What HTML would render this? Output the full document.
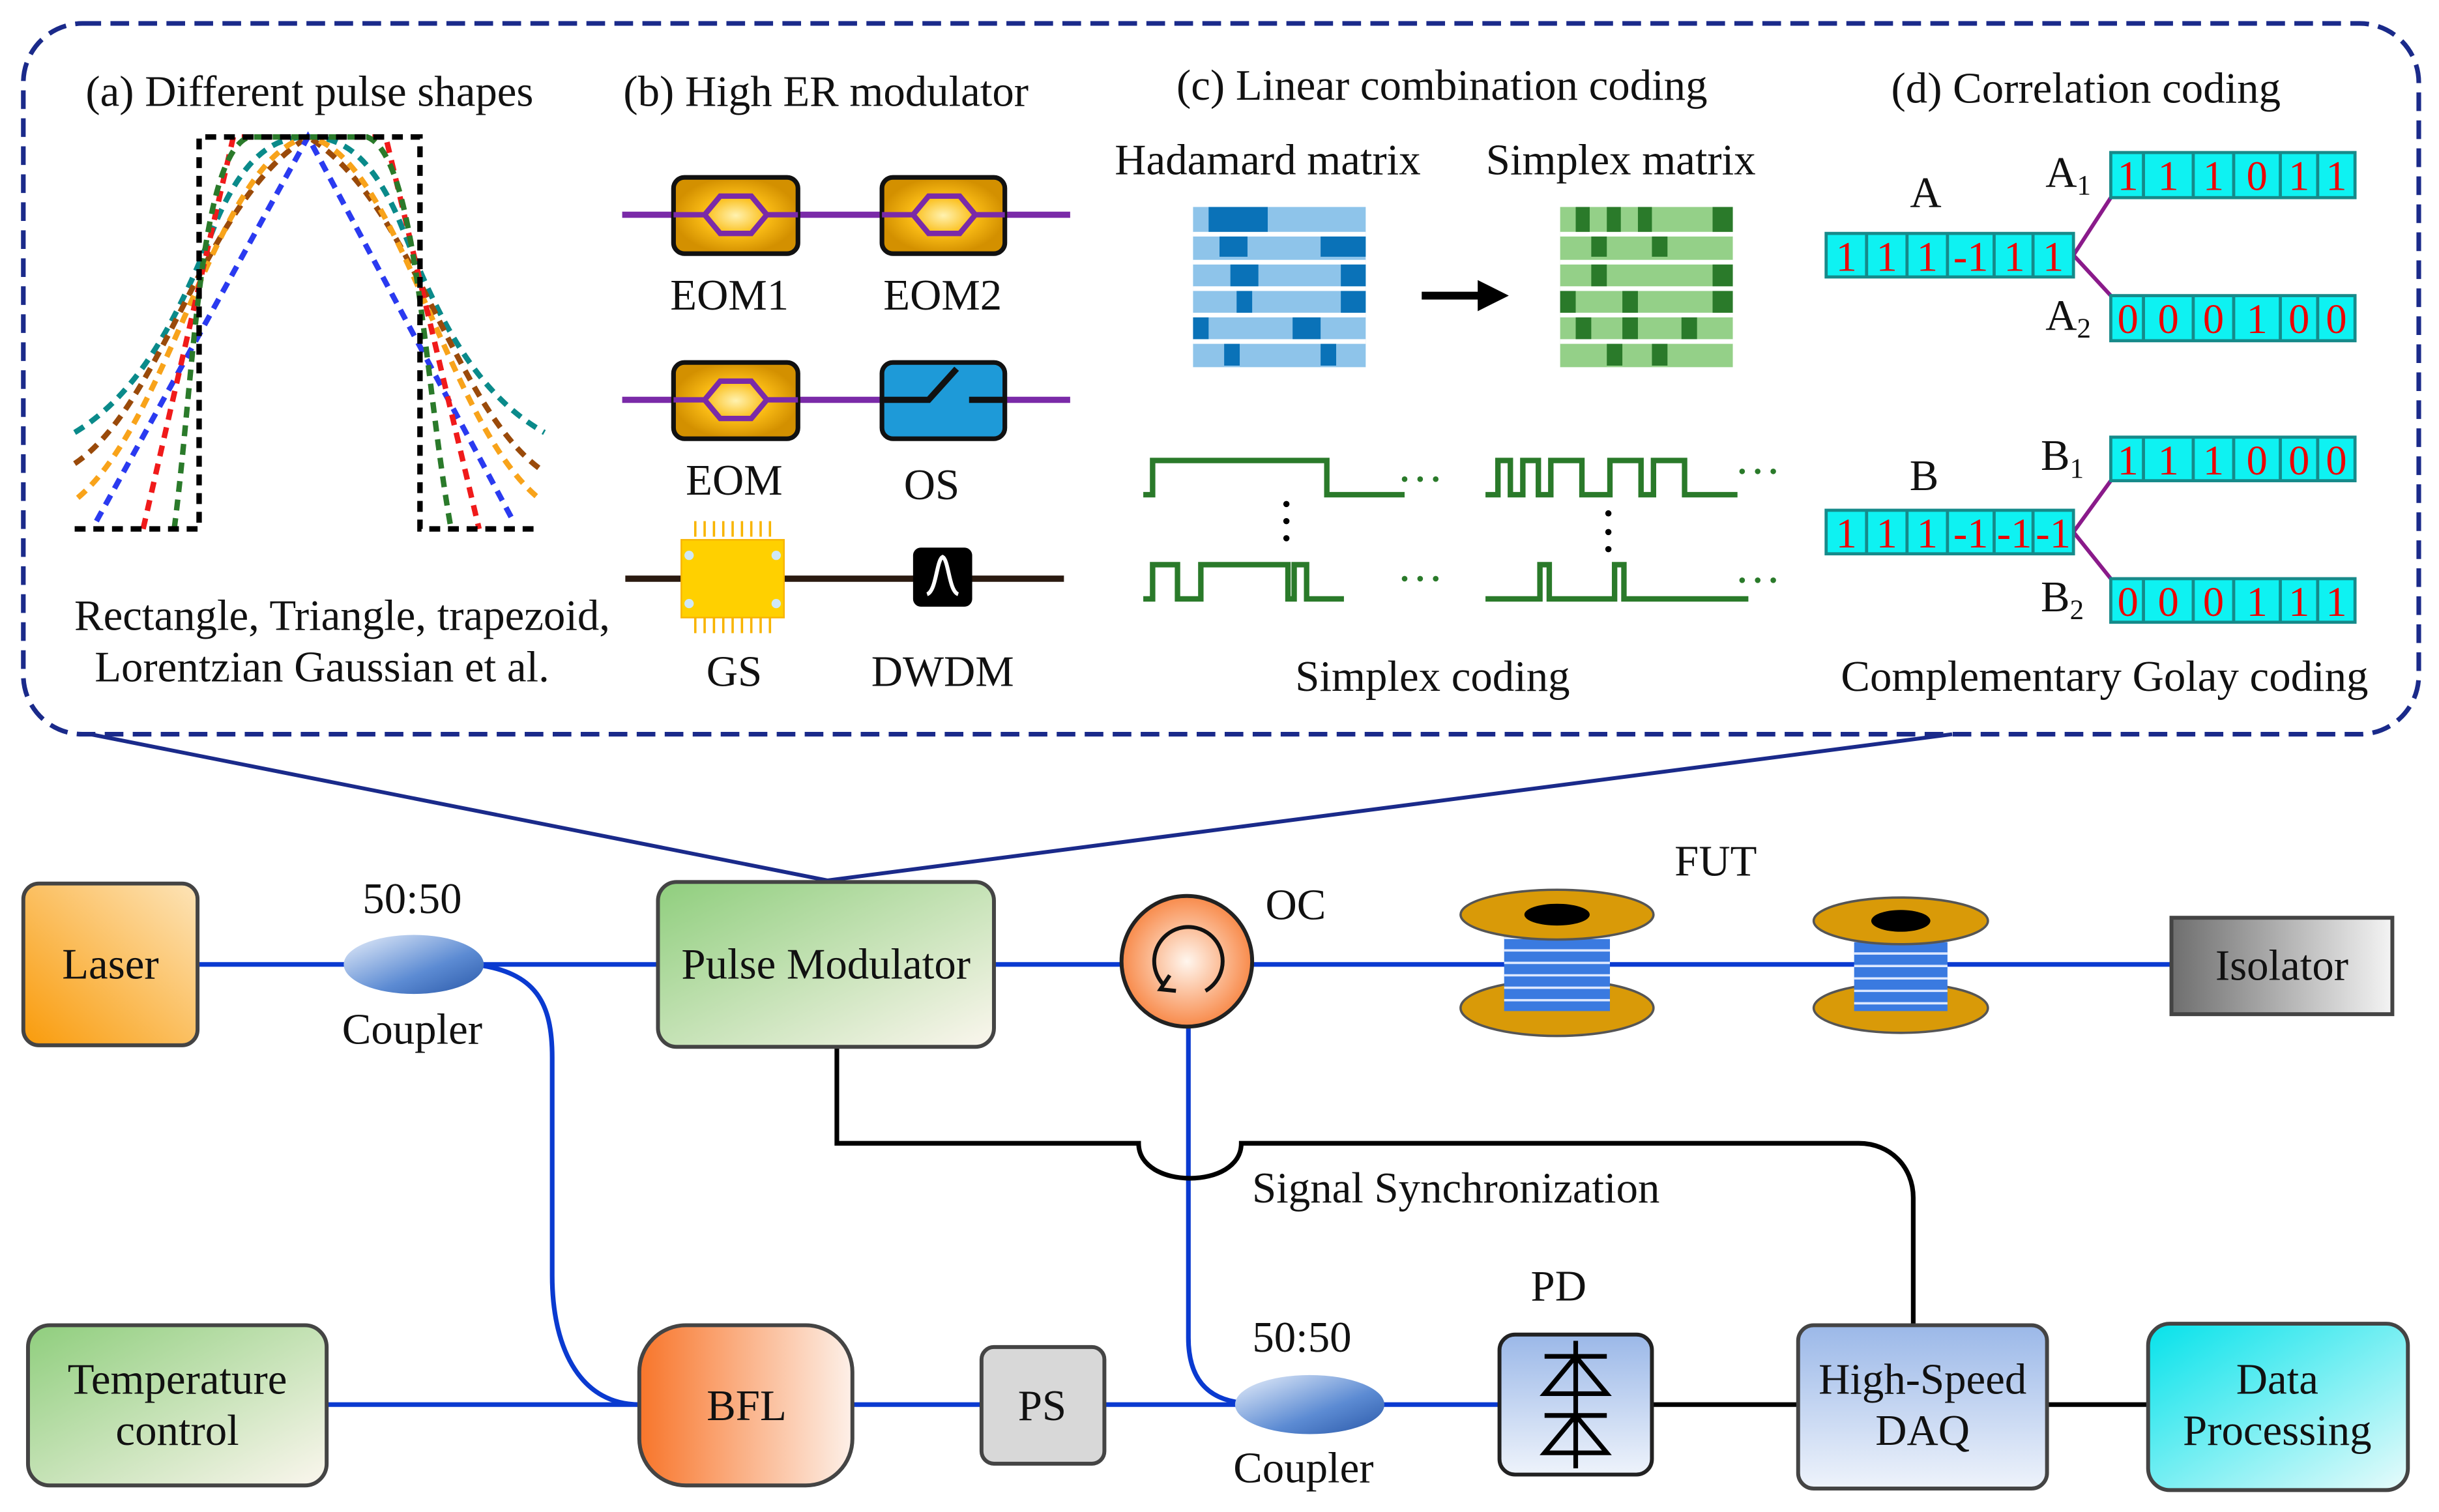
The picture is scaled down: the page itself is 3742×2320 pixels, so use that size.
<!DOCTYPE html>
<html><head><meta charset="utf-8"><style>
html,body{margin:0;padding:0;background:#fff}
svg{display:block}
text{font-family:"Liberation Serif",serif;fill:#111}
</style></head><body>
<svg width="3742" height="2320" viewBox="0 0 1568 972" xmlns="http://www.w3.org/2000/svg">
<defs>
<linearGradient id="gOr" x1="1" y1="0" x2="0" y2="1"><stop offset="0" stop-color="#fde4b8"/><stop offset="1" stop-color="#f99b0a"/></linearGradient>
<linearGradient id="gGr" x1="0" y1="0" x2="1" y2="1"><stop offset="0" stop-color="#8fce7d"/><stop offset="1" stop-color="#fbf6ee"/></linearGradient>
<linearGradient id="gBfl" x1="0" y1="0" x2="1" y2="0"><stop offset="0" stop-color="#f8752a"/><stop offset="1" stop-color="#fdf0e8"/></linearGradient>
<linearGradient id="gGray" x1="0" y1="0" x2="1" y2="0"><stop offset="0" stop-color="#6e6e6e"/><stop offset="1" stop-color="#f4f4f4"/></linearGradient>
<linearGradient id="gBlue" x1="0" y1="0" x2="0" y2="1"><stop offset="0" stop-color="#9bb8e8"/><stop offset="1" stop-color="#eef3fb"/></linearGradient>
<linearGradient id="gCy" x1="0" y1="0" x2="1" y2="1"><stop offset="0" stop-color="#05e2ea"/><stop offset="1" stop-color="#e8fbfb"/></linearGradient>
<linearGradient id="gCoup" x1="0" y1="0" x2="1" y2="1"><stop offset="0" stop-color="#e9f0fb"/><stop offset="0.6" stop-color="#5c8bd3"/><stop offset="1" stop-color="#2a58a8"/></linearGradient>
<radialGradient id="gOc"><stop offset="0" stop-color="#fff6ee"/><stop offset="1" stop-color="#f88a4a"/></radialGradient>
<radialGradient id="gEom"><stop offset="0" stop-color="#fff2b0"/><stop offset="0.5" stop-color="#fbbd16"/><stop offset="1" stop-color="#d39000"/></radialGradient>
</defs>

<rect x="15" y="15" width="1540" height="457" rx="38" fill="none" stroke="#1a2a8a" stroke-width="3" stroke-dasharray="12 6"/>
<line x1="58" y1="472" x2="532" y2="566" stroke="#1a2a8a" stroke-width="2.5"/>
<line x1="1255" y1="472" x2="532" y2="566" stroke="#1a2a8a" stroke-width="2.5"/>

<text x="199" y="68" font-size="28" text-anchor="middle">(a) Different pulse shapes</text>
<text x="531" y="68" font-size="28" text-anchor="middle">(b) High ER modulator</text>
<text x="927" y="64" font-size="28" text-anchor="middle">(c) Linear combination coding</text>
<text x="1341" y="66" font-size="28" text-anchor="middle">(d) Correlation  coding</text>

<g fill="none" stroke-width="3.5" stroke-dasharray="7 5">
<path d="M48,278 C95,250 120,190 140,140 C160,95 180,88 198,88 C216,88 236,95 256,140 C276,190 300,250 350,278" stroke="#0a8a8a"/>
<path d="M48,298 C105,260 130,130 198,88 C266,130 290,260 348,302" stroke="#9a4a0a"/>
<path d="M50,320 C110,270 140,100 198,88 C256,100 286,270 346,320" stroke="#f8a31a"/>
<path d="M62,335 L198,88 L330,335" stroke="#2a3af0"/>
<path d="M92,340 L150,88 L248,88 L308,340" stroke="#f01a1a"/>
<path d="M112,340 C125,240 128,100 160,88 L236,88 C268,100 272,240 290,340" stroke="#2a7a2a"/>
<path d="M48,340 L128,340 L128,88 L270,88 L270,340 L348,340" stroke="#000"/>
</g>
<text x="220" y="405" font-size="28" text-anchor="middle">Rectangle, Triangle, trapezoid,</text>
<text x="207" y="438" font-size="28" text-anchor="middle">Lorentzian Gaussian et al.</text>

<line x1="400" y1="138" x2="688" y2="138" stroke="#7a2aa8" stroke-width="4"/>
<line x1="400" y1="257" x2="688" y2="257" stroke="#7a2aa8" stroke-width="4"/>
<g stroke="#111" stroke-width="3">
<rect x="433" y="114" width="80" height="49" rx="7" fill="url(#gEom)"/>
<rect x="567" y="114" width="79" height="49" rx="7" fill="url(#gEom)"/>
<rect x="433" y="233" width="80" height="49" rx="7" fill="url(#gEom)"/>
<rect x="567" y="233" width="79" height="49" rx="7" fill="#1e9ad8"/>
</g>
<g fill="none" stroke="#7a2aa8" stroke-width="3.5">
<path d="M433,138 h20 l10,-12 h20 l10,12 l-10,12 h-20 l-10,-12 M493,138 h20"/>
<path d="M567,138 h20 l10,-12 h20 l10,12 l-10,12 h-20 l-10,-12 M627,138 h19"/>
<path d="M433,257 h20 l10,-12 h20 l10,12 l-10,12 h-20 l-10,-12 M493,257 h20"/>
</g>
<path d="M567,257 h30 l18,-20 M623,257 h23" stroke="#111" stroke-width="4" fill="none"/>
<text x="469" y="199" font-size="28" text-anchor="middle">EOM1</text>
<text x="606" y="199" font-size="28" text-anchor="middle">EOM2</text>
<text x="472" y="318" font-size="28" text-anchor="middle">EOM</text>
<text x="599" y="321" font-size="28" text-anchor="middle">OS</text>
<line x1="402" y1="372" x2="684" y2="372" stroke="#2a1a10" stroke-width="4"/>
<g stroke="#f8b400" stroke-width="1.5">
<path d="M447,335 v10 M453,335 v10 M459,335 v10 M465,335 v10 M471,335 v10 M477,335 v10 M483,335 v10 M489,335 v10 M495,335 v10 M447,397 v10 M453,397 v10 M459,397 v10 M465,397 v10 M471,397 v10 M477,397 v10 M483,397 v10 M489,397 v10 M495,397 v10"/>
</g>
<rect x="438" y="347" width="66" height="50" fill="#ffd000" stroke="#f8b400"/>
<circle cx="443" cy="357" r="3" fill="#cfe8f8"/><circle cx="443" cy="388" r="3" fill="#cfe8f8"/>
<circle cx="499" cy="357" r="3" fill="#cfe8f8"/><circle cx="499" cy="388" r="3" fill="#cfe8f8"/>
<rect x="587" y="352" width="38" height="38" rx="5" fill="#000"/>
<path d="M596,382 C602,380 602,360 606,358 C610,360 610,380 616,382" stroke="#fff" stroke-width="2.5" fill="none"/>
<text x="472" y="441" font-size="28" text-anchor="middle">GS</text>
<text x="606" y="441" font-size="28" text-anchor="middle">DWDM</text>

<text x="815" y="112" font-size="28" text-anchor="middle">Hadamard matrix</text>
<text x="1042" y="112" font-size="28" text-anchor="middle">Simplex matrix</text>
<g>
<rect x="767" y="133" width="111" height="103" fill="#8ec4ea"/>
<g fill="#fff"><rect x="767" y="149" width="111" height="3"/><rect x="767" y="167" width="111" height="3"/><rect x="767" y="184" width="111" height="3"/><rect x="767" y="201" width="111" height="3"/><rect x="767" y="218" width="111" height="3"/></g>
<g fill="#0a72b8">
<rect x="777" y="133" width="38" height="16"/><rect x="784" y="152" width="18" height="13"/><rect x="849" y="152" width="29" height="13"/>
<rect x="791" y="170" width="18" height="14"/><rect x="862" y="170" width="16" height="14"/>
<rect x="795" y="187" width="10" height="14"/><rect x="862" y="187" width="16" height="14"/>
<rect x="767" y="204" width="10" height="14"/><rect x="831" y="204" width="18" height="14"/>
<rect x="787" y="221" width="10" height="14"/><rect x="849" y="221" width="10" height="14"/>
</g>
<rect x="1003" y="133" width="111" height="103" fill="#94d088"/>
<g fill="#fff"><rect x="1003" y="149" width="111" height="3"/><rect x="1003" y="167" width="111" height="3"/><rect x="1003" y="184" width="111" height="3"/><rect x="1003" y="201" width="111" height="3"/><rect x="1003" y="218" width="111" height="3"/></g>
<g fill="#2a7a2a">
<rect x="1013" y="133" width="9" height="16"/><rect x="1033" y="133" width="9" height="16"/><rect x="1053" y="133" width="9" height="16"/><rect x="1101" y="133" width="13" height="16"/>
<rect x="1023" y="152" width="10" height="13"/><rect x="1062" y="152" width="10" height="13"/>
<rect x="1023" y="170" width="10" height="14"/><rect x="1101" y="170" width="13" height="14"/>
<rect x="1003" y="187" width="10" height="14"/><rect x="1043" y="187" width="10" height="14"/><rect x="1101" y="187" width="13" height="14"/>
<rect x="1013" y="204" width="10" height="14"/><rect x="1043" y="204" width="10" height="14"/><rect x="1081" y="204" width="10" height="14"/>
<rect x="1033" y="221" width="10" height="14"/><rect x="1062" y="221" width="10" height="14"/>
</g>
</g>
<path d="M914,190 h40" stroke="#000" stroke-width="5"/>
<path d="M950,180 l20,10 l-20,10 z" fill="#000"/>
<g fill="none" stroke="#2a7a2a" stroke-width="3.5">
<path d="M735,318 h6 v-22 h112 v22 h50"/>
<path d="M955,318 h8 v-22 h8 v22 h8 v-22 h10 v22 h8 v-22 h20 v22 h18 v-22 h20 v22 h8 v-22 h20 v22 h34"/>
<path d="M735,385 h6 v-22 h16 v22 h15 v-22 h56 v22 h4 v-22 h8 v22 h24"/>
<path d="M955,385 h35 v-22 h6 v22 h42 v-22 h6 v22 h80"/>
</g>
<g fill="#2a7a2a"><circle cx="903" cy="308" r="1.8"/><circle cx="913" cy="308" r="1.8"/><circle cx="923" cy="308" r="1.8"/><circle cx="903" cy="372" r="1.8"/><circle cx="913" cy="372" r="1.8"/><circle cx="923" cy="372" r="1.8"/>
<circle cx="1120" cy="303" r="1.8"/><circle cx="1130" cy="303" r="1.8"/><circle cx="1140" cy="303" r="1.8"/><circle cx="1120" cy="373" r="1.8"/><circle cx="1130" cy="373" r="1.8"/><circle cx="1140" cy="373" r="1.8"/></g>
<g fill="#000"><circle cx="827" cy="324" r="2"/><circle cx="827" cy="335" r="2"/><circle cx="827" cy="346" r="2"/><circle cx="1034" cy="330" r="2"/><circle cx="1034" cy="342" r="2"/><circle cx="1034" cy="353" r="2"/></g>
<text x="921" y="444" font-size="28" text-anchor="middle">Simplex coding</text>

<g stroke="#8a1a8a" stroke-width="2.5" fill="none">
<path d="M1333,164 L1357,127 M1333,164 L1357,190"/>
<path d="M1333,342 L1357,309 M1333,342 L1357,372"/>
</g>
<g stroke="#168a8a" stroke-width="2" fill="#0ef2f2">
<rect x="1174" y="150" width="159" height="28"/>
<rect x="1357" y="98" width="157" height="29"/>
<rect x="1357" y="190" width="157" height="29"/>
<rect x="1174" y="328" width="159" height="28"/>
<rect x="1357" y="281" width="157" height="28"/>
<rect x="1357" y="372" width="157" height="28"/>
<path d="M1200,150v28M1226,150v28M1252,150v28M1282,150v28M1307,150v28 M1200,328v28M1226,328v28M1252,328v28M1282,328v28M1307,328v28
 M1378,98v29M1410,98v29M1436,98v29M1466,98v29M1490,98v29 M1378,190v29M1410,190v29M1436,190v29M1466,190v29M1490,190v29
 M1378,281v28M1410,281v28M1436,281v28M1466,281v28M1490,281v28 M1378,372v28M1410,372v28M1436,372v28M1466,372v28M1490,372v28" fill="none"/>
</g>
<g font-size="27" text-anchor="middle">
<text x="1187" y="174" style="fill:#e00">1</text><text x="1213" y="174" style="fill:#e00">1</text><text x="1239" y="174" style="fill:#e00">1</text><text x="1267" y="174" style="fill:#e00">-1</text><text x="1295" y="174" style="fill:#e00">1</text><text x="1320" y="174" style="fill:#e00">1</text>
<text x="1187" y="352" style="fill:#e00">1</text><text x="1213" y="352" style="fill:#e00">1</text><text x="1239" y="352" style="fill:#e00">1</text><text x="1267" y="352" style="fill:#e00">-1</text><text x="1295" y="352" style="fill:#e00">-1</text><text x="1320" y="352" style="fill:#e00">-1</text>
<text x="1368" y="122" style="fill:#e00">1</text><text x="1394" y="122" style="fill:#e00">1</text><text x="1423" y="122" style="fill:#e00">1</text><text x="1451" y="122" style="fill:#e00">0</text><text x="1478" y="122" style="fill:#e00">1</text><text x="1502" y="122" style="fill:#e00">1</text>
<text x="1368" y="214" style="fill:#e00">0</text><text x="1394" y="214" style="fill:#e00">0</text><text x="1423" y="214" style="fill:#e00">0</text><text x="1451" y="214" style="fill:#e00">1</text><text x="1478" y="214" style="fill:#e00">0</text><text x="1502" y="214" style="fill:#e00">0</text>
<text x="1368" y="305" style="fill:#e00">1</text><text x="1394" y="305" style="fill:#e00">1</text><text x="1423" y="305" style="fill:#e00">1</text><text x="1451" y="305" style="fill:#e00">0</text><text x="1478" y="305" style="fill:#e00">0</text><text x="1502" y="305" style="fill:#e00">0</text>
<text x="1368" y="396" style="fill:#e00">0</text><text x="1394" y="396" style="fill:#e00">0</text><text x="1423" y="396" style="fill:#e00">0</text><text x="1451" y="396" style="fill:#e00">1</text><text x="1478" y="396" style="fill:#e00">1</text><text x="1502" y="396" style="fill:#e00">1</text>
</g>
<text x="1238" y="133" font-size="28" text-anchor="middle">A</text>
<text x="1237" y="315" font-size="28" text-anchor="middle">B</text>
<text x="1315" y="120" font-size="28">A<tspan font-size="18" dy="5">1</tspan></text>
<text x="1315" y="212" font-size="28">A<tspan font-size="18" dy="5">2</tspan></text>
<text x="1312" y="302" font-size="28">B<tspan font-size="18" dy="5">1</tspan></text>
<text x="1312" y="393" font-size="28">B<tspan font-size="18" dy="5">2</tspan></text>
<text x="1353" y="444" font-size="28" text-anchor="middle">Complementary Golay coding</text>

<g fill="none" stroke="#0a3ad0" stroke-width="3">
<path d="M127,620 H423"/>
<path d="M639,620 H1396"/>
<path d="M305,620 C345,625 355,645 355,680 V820 C355,870 375,903 411,903"/>
<path d="M210,903 H411 M548,903 H631 M710,903 H964"/>
<path d="M764,660 V860 C764,885 775,900 800,902"/>
</g>
<g fill="none" stroke="#000" stroke-width="3">
<path d="M538,673 V735 H732 C732,765 798,765 798,735 H1195 C1215,735 1230,750 1230,770 V852"/>
<path d="M1062,903 H1156 M1316,903 H1381"/>
</g>

<rect x="15" y="568" width="112" height="104" rx="10" fill="url(#gOr)" stroke="#444" stroke-width="2.5"/>
<text x="71" y="629" font-size="28" text-anchor="middle">Laser</text>
<ellipse cx="266" cy="620" rx="45" ry="19" fill="url(#gCoup)"/>
<text x="265" y="587" font-size="28" text-anchor="middle">50:50</text>
<text x="265" y="671" font-size="28" text-anchor="middle">Coupler</text>
<rect x="423" y="567" width="216" height="106" rx="12" fill="url(#gGr)" stroke="#444" stroke-width="2.5"/>
<text x="531" y="629" font-size="28" text-anchor="middle">Pulse Modulator</text>
<circle cx="763" cy="618" r="42" fill="url(#gOc)" stroke="#222" stroke-width="2.5"/>
<path d="M748,633 A22,22 0 1 1 775,637" fill="none" stroke="#111" stroke-width="2.5"/>
<path d="M752,627 l-6,9 l10,1" fill="none" stroke="#111" stroke-width="2.5"/>
<text x="833" y="591" font-size="28" text-anchor="middle">OC</text>
<text x="1103" y="563" font-size="28" text-anchor="middle">FUT</text>
<g>
<ellipse cx="1001" cy="648" rx="62" ry="18" fill="#d99a08" stroke="#555" stroke-width="1.5"/>
<rect x="967" y="595" width="68" height="55" fill="#3a7ae0"/>
<g stroke="#dde8ff" stroke-width="1.5"><path d="M967,603h68M967,611h68M967,619h68M967,627h68M967,635h68M967,643h68"/></g>
<ellipse cx="1001" cy="588" rx="62" ry="16" fill="#d99a08" stroke="#555" stroke-width="1.5"/>
<ellipse cx="1001" cy="588" rx="21" ry="7" fill="#000"/>
<ellipse cx="1222" cy="648" rx="56" ry="16" fill="#d99a08" stroke="#555" stroke-width="1.5"/>
<rect x="1192" y="597" width="60" height="53" fill="#3a7ae0"/>
<g stroke="#dde8ff" stroke-width="1.5"><path d="M1192,605h60M1192,613h60M1192,621h60M1192,629h60M1192,637h60M1192,645h60"/></g>
<ellipse cx="1222" cy="592" rx="56" ry="15" fill="#d99a08" stroke="#555" stroke-width="1.5"/>
<ellipse cx="1222" cy="592" rx="19" ry="7" fill="#000"/>
</g>
<rect x="1396" y="590" width="142" height="62" fill="url(#gGray)" stroke="#444" stroke-width="2.5"/>
<text x="1467" y="630" font-size="28" text-anchor="middle">Isolator</text>
<text x="936" y="773" font-size="28" text-anchor="middle">Signal Synchronization</text>

<rect x="18" y="852" width="192" height="103" rx="14" fill="url(#gGr)" stroke="#444" stroke-width="2.5"/>
<text x="114" y="896" font-size="28" text-anchor="middle">Temperature</text>
<text x="114" y="929" font-size="28" text-anchor="middle">control</text>
<rect x="411" y="852" width="137" height="103" rx="30" fill="url(#gBfl)" stroke="#444" stroke-width="2.5"/>
<text x="480" y="913" font-size="28" text-anchor="middle">BFL</text>
<rect x="631" y="866" width="79" height="75" rx="8" fill="#d8d8d8" stroke="#444" stroke-width="2.5"/>
<text x="670" y="913" font-size="28" text-anchor="middle">PS</text>
<ellipse cx="842" cy="903" rx="48" ry="19" fill="url(#gCoup)"/>
<text x="837" y="869" font-size="28" text-anchor="middle">50:50</text>
<text x="838" y="953" font-size="28" text-anchor="middle">Coupler</text>
<text x="1002" y="836" font-size="28" text-anchor="middle">PD</text>
<rect x="964" y="858" width="98" height="90" rx="10" fill="url(#gBlue)" stroke="#222" stroke-width="2.5"/>
<g fill="none" stroke="#000" stroke-width="3">
<path d="M1013,862 V944 M993,896 h40 l-20,-24 z M993,934 h40 l-20,-24 z M993,872 h40 M993,910 h40"/>
</g>
<rect x="1156" y="852" width="160" height="105" rx="10" fill="url(#gBlue)" stroke="#444" stroke-width="2.5"/>
<text x="1236" y="896" font-size="28" text-anchor="middle">High-Speed</text>
<text x="1236" y="929" font-size="28" text-anchor="middle">DAQ</text>
<rect x="1381" y="851" width="167" height="107" rx="14" fill="url(#gCy)" stroke="#444" stroke-width="2.5"/>
<text x="1464" y="896" font-size="28" text-anchor="middle">Data</text>
<text x="1464" y="929" font-size="28" text-anchor="middle">Processing</text>
</svg>
</body></html>
